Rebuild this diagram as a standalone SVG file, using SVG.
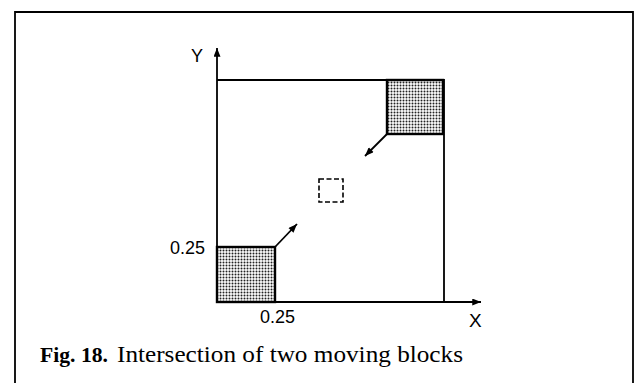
<svg xmlns="http://www.w3.org/2000/svg" width="634" height="383" viewBox="0 0 634 383">
<defs>
<style>
.ln{stroke:#000;fill:none;stroke-width:1.8}
.blk{stroke:#000;stroke-width:2.4;fill:url(#dots)}
.lbl{font-family:"Liberation Sans",Arial,sans-serif;fill:#000}
.cap{font-family:"Liberation Serif","Times New Roman",serif;fill:#000}
</style>
<pattern id="dots" width="3" height="3" patternUnits="userSpaceOnUse">
<rect width="3" height="3" fill="#fff"/>
<circle cx="1.5" cy="1.5" r="1" fill="#222"/>
</pattern>
<marker id="ah" viewBox="0 0 10 8" refX="10" refY="4" markerWidth="10" markerHeight="7" markerUnits="userSpaceOnUse" orient="auto">
<path d="M0,0 L10,4 L0,8 Z" fill="#000"/>
</marker>
</defs>
<g id="frame">
<path class="ln" d="M15,383 V12 H633 V383"/>
</g>
<g id="axes">
<line class="ln" x1="217" y1="303" x2="217" y2="48" marker-end="url(#ah)"/>
<line class="ln" x1="216" y1="302" x2="481" y2="302" marker-end="url(#ah)"/>
<text class="lbl" x="191" y="62" font-size="18">Y</text>
<text class="lbl" x="469" y="327" font-size="19">X</text>
</g>
<g id="domain">
<path class="ln" d="M217,80 H444 V302"/>
</g>
<g id="block-top-right">
<rect class="blk" x="387" y="80" width="56" height="54"/>
</g>
<g id="block-bottom-left">
<rect class="blk" x="217" y="247" width="58" height="55"/>
</g>
<g id="intersection">
<rect x="319" y="179" width="24" height="23" fill="none" stroke="#000" stroke-width="1.6" stroke-dasharray="5,2.5"/>
</g>
<g id="connectors">
<line class="ln" x1="387" y1="134" x2="365" y2="156" marker-end="url(#ah)"/>
<line class="ln" x1="275" y1="247" x2="297" y2="224" marker-end="url(#ah)"/>
</g>
<g id="labels">
<text class="lbl" x="170" y="254" font-size="18">0.25</text>
<text class="lbl" x="260" y="323" font-size="18">0.25</text>
</g>
<g id="caption">
<text class="cap" x="40" y="362" font-size="22" font-weight="bold" textLength="68" lengthAdjust="spacingAndGlyphs">Fig. 18.</text>
<text class="cap" x="117" y="362" font-size="23" textLength="346" lengthAdjust="spacingAndGlyphs">Intersection of two moving blocks</text>
</g>
</svg>
